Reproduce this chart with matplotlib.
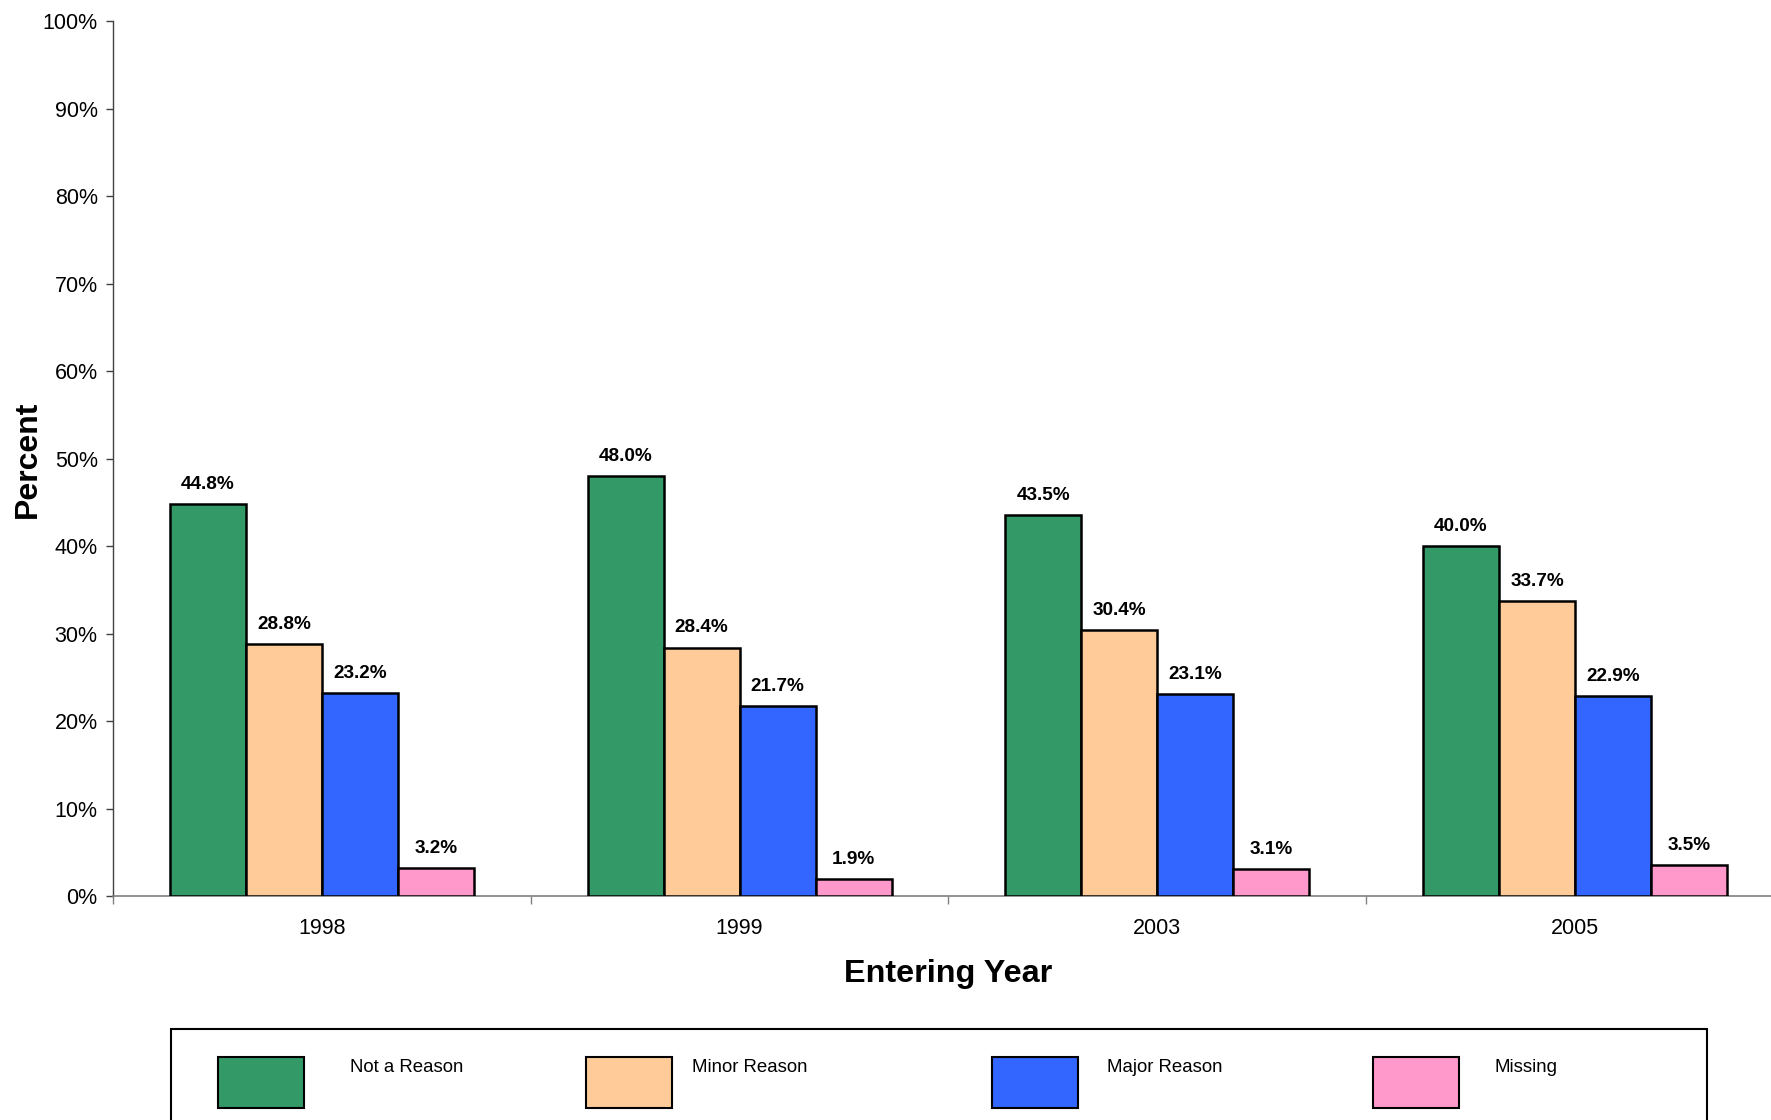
"""
Entering year reasons - grouped bar chart
"""

import matplotlib
matplotlib.use("Agg")
import matplotlib.pyplot as plt
import numpy
from matplotlib.patches import Rectangle
from matplotlib.ticker import FixedLocator, PercentFormatter

years = ["1998", "1999", "2003", "2005"]
series = ["Not a Reason", "Minor Reason", "Major Reason", "Missing"]
not_a_reason = [44.8, 48.0, 43.5, 40.0]
minor_reason = [28.8, 28.4, 30.4, 33.7]
major_reason = [23.2, 21.7, 23.1, 22.9]
missing = [3.2, 1.9, 3.1, 3.5]
colors = ["#339966", "#FFCC99", "#3366FF", "#FF99CC"]

plt.rcParams['font.family'] = ['Liberation Sans', 'DejaVu Sans']

fig = plt.figure(figsize=(17.71, 11.2), dpi=100)
ax = fig.add_axes([0.0638, 0.2, 0.9435, 0.781])

x = numpy.arange(len(years))
w = 0.182
for i, (name, vals) in enumerate(zip(series, [not_a_reason, minor_reason,
                                              major_reason, missing])):
    bars = ax.bar(x + (i - 1.5) * w, vals, width=w, color=colors[i],
                  edgecolor='black', linewidth=1.8, label=name, zorder=3)
    for b, v in zip(bars, vals):
        ax.annotate(f"{v:.1f}%", (b.get_x() + b.get_width() / 2, v),
                    xytext=(0, 8), textcoords='offset points',
                    ha='center', va='bottom', fontsize=13.7,
                    fontweight='bold')

ax.set_xlim(-0.5, len(years) - 0.5)
ax.set_ylim(0, 100)
ax.yaxis.set_major_locator(FixedLocator(range(0, 101, 10)))
ax.yaxis.set_major_formatter(PercentFormatter(decimals=0))
ax.set_xticks(x)
ax.set_xticklabels(years)
ax.xaxis.set_minor_locator(FixedLocator(numpy.arange(-0.5, len(years), 1)))
ax.tick_params(axis='x', which='major', length=0, pad=16, labelsize=15.5)
ax.tick_params(axis='x', which='minor', length=6, width=1,
               color='#808080', direction='out')
ax.tick_params(axis='y', length=5, width=1, color='#404040', pad=6,
               labelsize=15.5)
for s in ('top', 'right'):
    ax.spines[s].set_visible(False)
ax.spines['left'].set_color('#404040')
ax.spines['bottom'].set_color('#808080')
ax.spines['left'].set_linewidth(1)
ax.spines['bottom'].set_linewidth(1.2)

fig.text(0.0158, 0.59, "Percent", rotation=90, ha='center', va='center',
         fontsize=23, fontweight='bold')
fig.text(0.5355, 0.130, "Entering Year", ha='center', va='center',
         fontsize=23.3, fontweight='bold')

# Legend box drawn by hand, bottom edge runs off the figure
fig.patches.append(Rectangle((0.0963, -0.05), 0.8675, 0.131,
                             transform=fig.transFigure, facecolor='white',
                             edgecolor='black', linewidth=1.5))
patch_x = [0.1231, 0.3309, 0.5601, 0.7753]
text_x = [0.1976, 0.3907, 0.6251, 0.8436]
for px, tx, name, c in zip(patch_x, text_x, series, colors):
    fig.patches.append(Rectangle((px, 0.0107), 0.0486, 0.0455,
                                 transform=fig.transFigure, facecolor=c,
                                 edgecolor='black', linewidth=1.5))
    fig.text(tx, 0.0465, name, ha='left', va='center', fontsize=13.4)

fig.savefig("out.png", dpi=100)
